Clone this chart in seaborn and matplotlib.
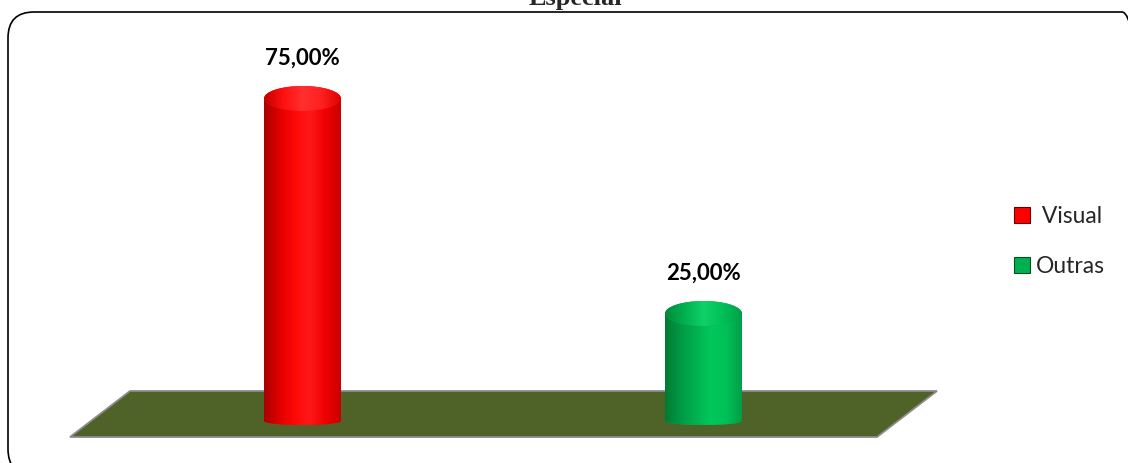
import numpy as np
import matplotlib
matplotlib.use('Agg')
import matplotlib.pyplot as plt
import seaborn as sns
from matplotlib.patches import Ellipse, Polygon, Patch, FancyBboxPatch
from matplotlib.colors import LinearSegmentedColormap
from matplotlib.transforms import IdentityTransform

# data
categories = ['Visual', 'Outras']
values = [75.0, 25.0]
value_labels = ['75,00%', '25,00%']
legend_labels = [' Visual', 'Outras']
bar_colors = ['#FF0000', '#00B050']
title = 'Especial'

# horizontal shading of each cylinder (left -> right)
shades = [
    ['#A80000', '#E00000', '#FF0808', '#FF1818', '#F00000', '#C80000'],
    ['#007A33', '#009A44', '#00B050', '#00C85A', '#00C056', '#009E48'],
]
top_shades = [
    ['#C00000', '#FF1010', '#FF3030', '#FF2020', '#E00000'],
    ['#008A3A', '#00B050', '#10D068', '#00C058', '#00A048'],
]

W, H = 1128, 463
fig = plt.figure(figsize=(W / 100, H / 100), dpi=100)
sns.set_style('white')
ax = fig.add_axes([0, 0, 1, 1])

sns.barplot(x=categories, y=values, hue=categories, palette=bar_colors,
            width=0.192, legend=False, ax=ax, zorder=2, linewidth=0)

# pixel geometry -> data limits
px_per_unit_y = 4.3
zero_px = 421
x0_px, step_px = 302.5, 401


def set_limits():
    ax.set_ylim((zero_px - H) / px_per_unit_y, zero_px / px_per_unit_y)
    ax.set_xlim(-x0_px / step_px, (W - x0_px) / step_px)


set_limits()
ax.axis('off')

# floor
floor = Polygon([(130 / W, 1 - 391 / H), (937 / W, 1 - 391 / H),
                 (877 / W, 1 - 437 / H), (70 / W, 1 - 437 / H)],
                closed=True, transform=ax.transAxes, facecolor='#4F6228',
                edgecolor='#8C8C8C', lw=1.3, zorder=0)
ax.add_patch(floor)

ell_h_top = 25 / px_per_unit_y
ell_h_bot = 8 / px_per_unit_y


def shaded(ax, clip, extent, colors, z):
    cmap = LinearSegmentedColormap.from_list('c', colors)
    grad = np.linspace(0, 1, 256).reshape(1, -1)
    im = ax.imshow(grad, cmap=cmap, extent=extent, aspect='auto',
                   interpolation='bilinear', zorder=z)
    im.set_clip_path(clip)


for i, bar in enumerate(ax.patches[:len(values)]):
    x = bar.get_x()
    w = bar.get_width()
    h = bar.get_height()
    cx = x + w / 2
    bar.set_zorder(2)
    bot = Ellipse((cx, 0), w, ell_h_bot, facecolor=bar_colors[i], lw=0, zorder=1.5)
    ax.add_patch(bot)
    shaded(ax, bot, (x, x + w, -ell_h_bot, ell_h_bot), shades[i], 1.6)
    shaded(ax, bar, (x, x + w, 0, h), shades[i], 2.1)
    top = Ellipse((cx, h), w, ell_h_top, facecolor=bar_colors[i], lw=0, zorder=3)
    ax.add_patch(top)
    shaded(ax, top, (x, x + w, h - ell_h_top, h + ell_h_top), top_shades[i], 3.1)
    ax.annotate(value_labels[i], (cx, h), xytext=(0, 29), textcoords='offset points',
                ha='center', va='center', fontsize=16, fontweight='bold',
                color='black', family=['Lato', 'DejaVu Sans'], zorder=5)

set_limits()

# legend
handles = [Patch(facecolor=c, edgecolor='#600000' if i == 0 else '#005020', lw=0.8)
           for i, c in enumerate(bar_colors)]
fig.legend(handles, legend_labels, loc='center left',
           bbox_to_anchor=(1014 / W, 1 - 241.5 / H), frameon=False,
           prop={'family': 'Lato', 'size': 16.5}, handlelength=0.7,
           handleheight=0.7, handletextpad=0.25, labelspacing=1.25,
           borderpad=0, borderaxespad=0)

# outer rounded frame (partly cut off by the image edge)
frame = FancyBboxPatch((8, -12), 1140, 451 + 12, boxstyle='round,pad=0,rounding_size=26',
                       transform=IdentityTransform(), facecolor='none',
                       edgecolor='black', lw=1.2)
fig.patches.append(frame)

# title is only partly visible at the top edge, as in the reference
fig.text(575 / W, 1 - 5 / H, title, ha='center', va='baseline', fontsize=19,
         fontweight='bold', family='Liberation Serif')

fig.savefig('out.png', dpi=100)
